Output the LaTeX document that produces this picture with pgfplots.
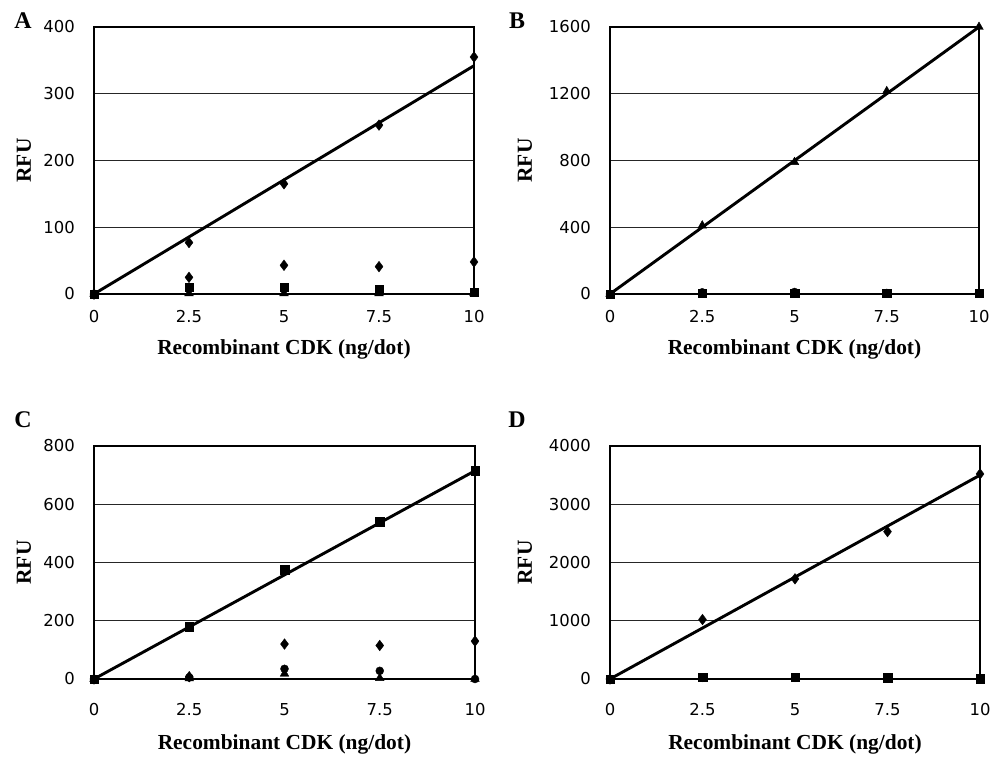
\documentclass[border=0pt]{standalone}
\usepackage{fontspec}
\setmainfont{Liberation Serif}
\newfontfamily\tickfont{DejaVu Sans}
\usepackage{pgfplots}
\pgfplotsset{compat=1.18}
\pgfplotsset{
  panel/.style={
    scale only axis, anchor=south west, clip=false,
    xmin=0, xmax=10, ymin=0,
    xtick={0,2.5,5,7.5,10}, xticklabels={0,2.5,5,7.5,10},
    major tick length=0pt,
    ymajorgrids, grid style={black!85, line width=0.9bp},
    axis line style={line width=1.5bp},
    /pgf/number format/assume math mode=true,
    tick label style={font=\tickfont\fontsize{16.5}{16.5}\selectfont, inner sep=0pt},
    yticklabel style={anchor=east, xshift=-19bp},
    label style={font=\bfseries\fontsize{21.5}{21.5}\selectfont},
    xlabel={Recombinant CDK (ng/dot)},
    ylabel={RFU},
    xlabel style={at={(axis description cs:0.5,0)}, anchor=center},
  },
  trend/.style={black, line width=2.9bp, no marks},
  dia/.style={only marks, mark=diamond*, mark size=5.3bp, black},
  sq/.style={only marks, mark=square*, mark size=4.2bp, black},
  tri/.style={only marks, mark=triangle*, mark size=5bp, black},
  circ/.style={only marks, mark=*, mark size=4bp, black},
}
\begin{document}
\begin{tikzpicture}
\path[use as bounding box] (0,0) rectangle (991bp,758bp);
% Panel A
\begin{axis}[panel, at={(94bp,464bp)}, width=380bp, height=267bp, ymax=400,
  ytick={0,100,200,300,400}, yticklabels={0,100,200,300,400},
  xticklabel style={anchor=center, yshift=-23bp},
  xlabel style={yshift=-55bp},
  ylabel style={at={([xshift=-70bp]axis description cs:0,0.5)}, rotate=0, anchor=center}]
\addplot[trend] coordinates {(0,0) (10,342)};
\addplot[tri] coordinates {(0,0) (2.5,1) (5,1) (7.5,1) (10,1)};
\addplot[sq] coordinates {(0,0) (2.5,10) (5,10) (7.5,7) (10,3)};
\addplot[dia] coordinates {(0,0) (2.5,25) (5,43) (7.5,41) (10,48)};
\addplot[dia] coordinates {(0,0) (2.5,77) (5,165) (7.5,253) (10,355)};
\end{axis}
% Panel B
\begin{axis}[panel, at={(610bp,464bp)}, width=369bp, height=267bp, ymax=1600,
  ytick={0,400,800,1200,1600}, yticklabels={0,400,800,1200,1600},
  xticklabel style={anchor=center, yshift=-23bp},
  xlabel style={yshift=-55bp},
  ylabel style={at={([xshift=-85bp]axis description cs:0,0.5)}, rotate=0, anchor=center}]
\addplot[trend] coordinates {(0,0) (10,1600)};
\addplot[sq] coordinates {(0,0) (2.5,5) (5,5) (7.5,5) (10,5)};
\addplot[circ] coordinates {(0,0) (2.5,10) (5,12) (7.5,6) (10,6)};
\addplot[tri] coordinates {(0,0) (2.5,410) (5,790) (7.5,1215) (10,1600)};
\end{axis}
% Panel C
\begin{axis}[panel, at={(94bp,79bp)}, width=381bp, height=233bp, ymax=800,
  ytick={0,200,400,600,800}, yticklabels={0,200,400,600,800},
  xticklabel style={anchor=center, yshift=-31bp},
  xlabel style={yshift=-65bp},
  ylabel style={at={([xshift=-70bp]axis description cs:0,0.5)}, rotate=0, anchor=center}]
\addplot[trend] coordinates {(0,0) (10,715)};
\addplot[tri] coordinates {(0,0) (2.5,2) (5,18) (7.5,3) (10,0)};
\addplot[circ] coordinates {(0,0) (2.5,5) (5,35) (7.5,28) (10,0)};
\addplot[dia] coordinates {(0,0) (2.5,8) (5,120) (7.5,115) (10,130)};
\addplot[sq] coordinates {(0,0) (2.5,180) (5,375) (7.5,540) (10,715)};
\end{axis}
% Panel D
\begin{axis}[panel, at={(610bp,79bp)}, width=370bp, height=233bp, ymax=4000,
  ytick={0,1000,2000,3000,4000}, yticklabels={0,1000,2000,3000,4000},
  xticklabel style={anchor=center, yshift=-31bp},
  xlabel style={yshift=-65bp},
  ylabel style={at={([xshift=-85bp]axis description cs:0,0.5)}, rotate=0, anchor=center}]
\addplot[trend] coordinates {(0,0) (10,3500)};
\addplot[circ] coordinates {(0,0) (2.5,20) (5,20) (7.5,25) (10,5)};
\addplot[sq] coordinates {(0,0) (2.5,30) (5,30) (7.5,20) (10,5)};
\addplot[dia] coordinates {(0,0) (2.5,1020) (5,1720) (7.5,2530) (10,3520)};
\end{axis}
\node[font=\bfseries\fontsize{24}{24}\selectfont] at (23bp,737bp) {A};
\node[font=\bfseries\fontsize{24}{24}\selectfont] at (517bp,737bp) {B};
\node[font=\bfseries\fontsize{24}{24}\selectfont] at (23bp,338bp) {C};
\node[font=\bfseries\fontsize{24}{24}\selectfont] at (517bp,338bp) {D};
\end{tikzpicture}
\end{document}
